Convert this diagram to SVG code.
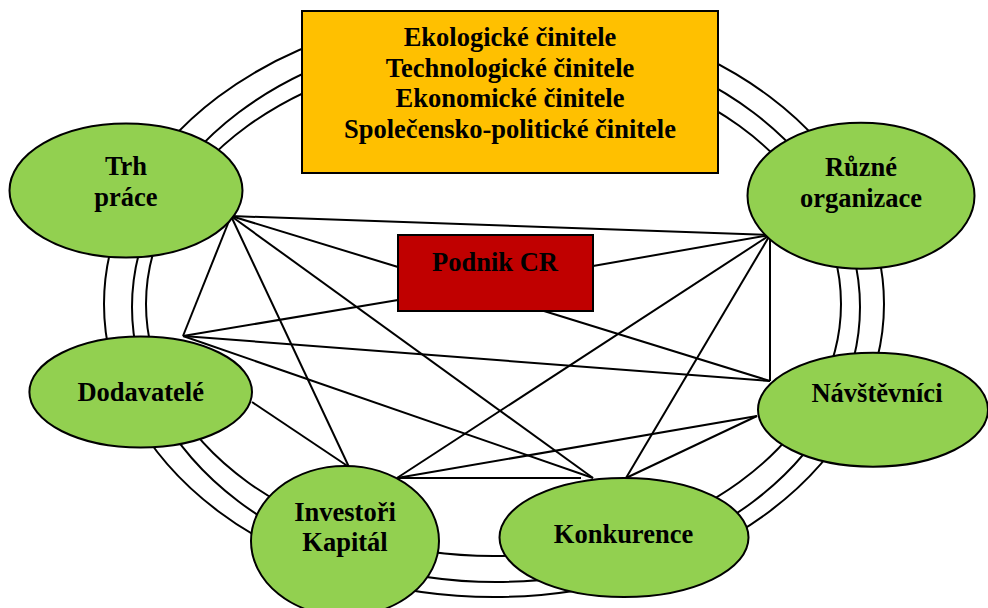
<svg xmlns="http://www.w3.org/2000/svg" width="988" height="608" viewBox="0 0 988 608">
  <style>
    .ring { fill: none; stroke: #000; stroke-width: 2; }
    .link { stroke: #000; stroke-width: 2; fill: none; }
    .node { fill: #92D050; stroke: #000; stroke-width: 2; }
    .box { stroke: #000; stroke-width: 2; }
    .label { font-family: "Liberation Serif", "Times New Roman", serif; font-weight: bold; font-size: 26.5px; fill: #000; text-anchor: middle; }
  </style>

  <rect width="988" height="608" fill="#fff"/>

  <!-- three surrounding rings -->
  <g id="rings">
    <ellipse class="ring" cx="494" cy="304" rx="390" ry="293"/>
    <ellipse class="ring" cx="496" cy="307" rx="364" ry="275"/>
    <ellipse class="ring" cx="493.5" cy="304" rx="347.5" ry="252"/>
  </g>

  <!-- relations between the actors -->
  <g id="connectors">
    <line class="link" x1="231" y1="216" x2="770" y2="235"/>
    <line class="link" x1="231" y1="216" x2="398" y2="267"/>
    <line class="link" x1="231" y1="216" x2="593" y2="478"/>
    <line class="link" x1="231" y1="216" x2="349" y2="467"/>
    <line class="link" x1="231" y1="216" x2="183" y2="336"/>
    <line class="link" x1="770" y1="235" x2="593" y2="266"/>
    <line class="link" x1="770" y1="235" x2="397" y2="478"/>
    <line class="link" x1="770" y1="235" x2="626" y2="478"/>
    <line class="link" x1="770" y1="235" x2="770" y2="381"/>
    <line class="link" x1="183" y1="336" x2="398" y2="300"/>
    <line class="link" x1="183" y1="336" x2="770" y2="381"/>
    <line class="link" x1="183" y1="336" x2="593" y2="478"/>
    <line class="link" x1="252" y1="402" x2="349" y2="467"/>
    <line class="link" x1="544" y1="311" x2="770" y2="381"/>
    <line class="link" x1="757" y1="416" x2="397" y2="478"/>
    <line class="link" x1="757" y1="416" x2="626" y2="478"/>
    <line class="link" x1="397" y1="478" x2="581" y2="478"/>
  </g>

  <g id="factors">
    <rect class="box" x="302" y="11" width="416" height="162" fill="#FFC000"/>
    <text class="label" x="510" y="46">Ekologické činitele</text>
    <text class="label" x="510" y="76.6">Technologické činitele</text>
    <text class="label" x="510" y="107.2">Ekonomické činitele</text>
    <text class="label" x="510" y="137.8">Společensko-politické činitele</text>
  </g>

  <g id="podnik">
    <rect class="box" x="398" y="235" width="195" height="76" fill="#C00000"/>
    <text class="label" x="495" y="271">Podnik CR</text>
  </g>

  <g id="trh-prace">
    <ellipse class="node" cx="126" cy="190.5" rx="116.5" ry="67"/>
    <text class="label" x="126" y="175">Trh</text>
    <text class="label" x="126" y="205.5">práce</text>
  </g>

  <g id="ruzne-organizace">
    <ellipse class="node" cx="861" cy="195.7" rx="113.5" ry="73"/>
    <text class="label" x="861" y="176">Různé</text>
    <text class="label" x="861" y="206.5">organizace</text>
  </g>

  <g id="dodavatele">
    <ellipse class="node" cx="140.7" cy="392" rx="111.3" ry="55.5"/>
    <text class="label" x="140.7" y="400.7">Dodavatelé</text>
  </g>

  <g id="navstevnici">
    <ellipse class="node" cx="873" cy="409.7" rx="115" ry="57"/>
    <text class="label" x="877" y="401.5">Návštěvníci</text>
  </g>

  <g id="investori">
    <ellipse class="node" cx="345" cy="541" rx="94" ry="75"/>
    <text class="label" x="345" y="520.7">Investoři</text>
    <text class="label" x="345" y="551.2">Kapitál</text>
  </g>

  <g id="konkurence">
    <ellipse class="node" cx="624" cy="537.5" rx="124.5" ry="59.5"/>
    <text class="label" x="623.5" y="543.3">Konkurence</text>
  </g>
</svg>
